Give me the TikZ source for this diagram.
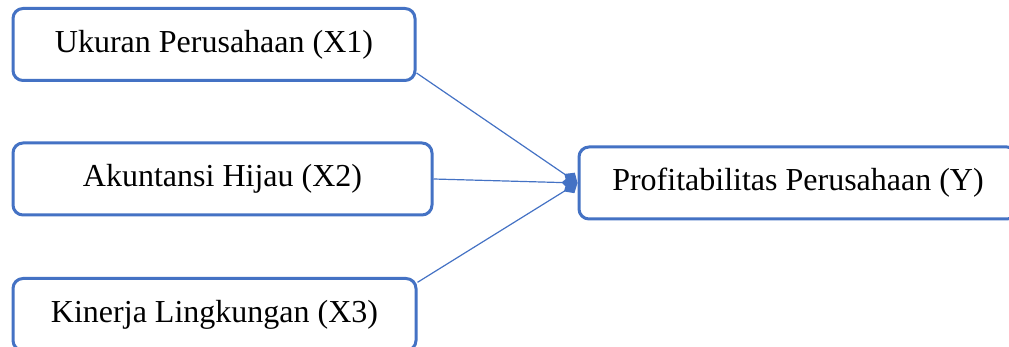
\documentclass[tikz,border=0pt]{standalone}
\usepackage{fontspec}
\setmainfont{Liberation Serif}
\usetikzlibrary{arrows.meta}
\definecolor{wordblue}{RGB}{68,114,196}

\begin{document}
\begin{tikzpicture}[x=0.5pt, y=-0.5pt,
	var box/.style={draw=wordblue, line width=1.5pt, rounded corners=5pt,
		minimum height=36pt, inner sep=0pt, fill=white,
		font=\fontsize{16}{20}\selectfont},
	path arrow/.style={wordblue, line width=0.6pt,
		-{Diamond[length=8pt, width=7pt]}}]
	\clip (0,0) rectangle (1009,347);
	%\draw[help lines] (0,0) grid (1009,347);
		\node[var box, minimum width=201pt] (X1) at (214, 44.5) {Ukuran Perusahaan (X1)};
		\node[var box, minimum width=209.5pt] (X2) at (222.5, 179) {Akuntansi Hijau (X2)};
		\node[var box, minimum width=201.5pt] (X3) at (214.5, 314.5) {Kinerja Lingkungan (X3)};
		\node[var box, minimum width=219pt] (Y) at (798, 183) {Profitabilitas Perusahaan (Y)};
		\foreach \from in {X1.-8, X2.east, X3.9}{
		  \draw[path arrow] (\from) -- (Y.west);
		}
	\end{tikzpicture}
\end{document}
